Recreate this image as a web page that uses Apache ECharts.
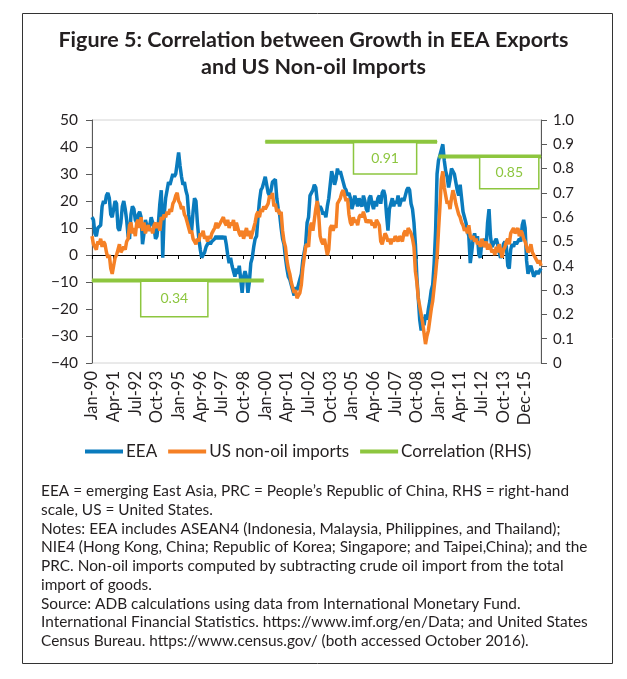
<!DOCTYPE html>
<html>
<head>
<meta charset="utf-8">
<script src="https://cdn.jsdelivr.net/npm/echarts@6/dist/echarts.min.js"></script>
<style>html,body{margin:0;padding:0;background:#fff}#c{width:627px;height:679px}</style>
</head>
<body>
<div id="c"></div>
<script>
// ---------- data ----------
const monthNames = ['Jan','Feb','Mar','Apr','May','Jun','Jul','Aug','Sep','Oct','Nov','Dec'];
const firstYear = 1990, lastYear = 2015;
const categories = [];
for (let y = firstYear; y <= lastYear; y++) {
  for (const m of monthNames) categories.push(m + '-' + String(y % 100).padStart(2, '0'));
}
const tickLabels = ['Jan-90','Apr-91','Jul-92','Oct-93','Jan-95','Apr-96','Jul-97','Oct-98','Jan-00','Apr-01',
  'Jul-02','Oct-03','Jan-05','Apr-06','Jul-07','Oct-08','Jan-10','Apr-11','Jul-12','Oct-13','Dec-15'];

const eea = [
  14, 13, 8, 7, 10, 10, 11, 18, 20, 19, 22, 23,
  21, 15, 14, 17, 20, 19, 10, 9, 12, 18, 20, 17,
  13, 7, 6, 15, 18, 17, 13, 12, 15, 16, 14, 4,
  8, 13, 13, 9, 11, 14, 14, 10, 6, 7, 12, 19,
  24, -1, 15, 21, 24, 27, 26, 28, 30, 29, 30, 34,
  38, 33, 29, 26, 27, 24, 22, 15, 10, 9, 16, 21,
  20, 12, 6, 2, -1, 0, 1, 3, 4, 5, 4, 5,
  5, 6, 7, 6, 7, 6, 7, 6, 7, 4, 0, -3,
  -1, -4, -6, -8, -5, -7, -4, -9, -14, -8, -6, -8,
  -14, -10, -3, -1, 3, 6, 7, 14, 20, 24, 25, 27,
  29, 26, 23, 22, 24, 27, 27, 28, 21, 17, 15, 10,
  6, 4, -1, -5, -8, -9, -11, -13, -15, -12, -13, -11,
  -9, -7, -2, 1, 4, 12, 14, 22, 23, 24, 26, 25,
  20, 17, 18, 17, 15, 16, 14, 18, 21, 26, 31, 29,
  26, 28, 32, 30, 31, 29, 27, 25, 24, 22, 23, 21,
  17, 19, 22, 20, 18, 21, 19, 18, 22, 20, 17, 16,
  21, 22, 19, 17, 20, 18, 21, 22, 19, 23, 24, 22,
  15, 9, 17, 19, 21, 18, 20, 19, 22, 18, 20, 21,
  20, 22, 24, 25, 24, 19, 17, 12, 4, -8, -16, -24,
  -28, -23, -26, -22, -24, -20, -17, -13, -11, -3, 9, 30,
  35, 37, 39, 41, 35, 31, 29, 25, 28, 32, 31, 30,
  27, 24, 22, 26, 21, 16, 14, 12, 9, 7, -3, 1,
  6, 8, 5, 7, 0, -1, 5, 4, 6, 3, 12, 17,
  7, 3, 4, 5, 6, 4, 1, -1, 0, 4, 5, 3,
  -4, -5, 2, 4, 3, 5, 4, 5, 6, 5, 11, 13,
  10, -2, -7, -5, -4, -6, -8, -7, -6, -7, -6, -5
];

const usNonOilImports = [
  7, 4, 3, 2, 5, 4, 6, 3, 5, 4, 1, -1,
  0, -5, -7, -4, -1, 0, 2, 4, 1, 2, 3, 2,
  5, 6, 11, 12, 8, 10, 7, 12, 13, 10, 14, 9,
  12, 8, 10, 11, 9, 10, 8, 11, 12, 10, 12, 9,
  14, 13, 15, 14, 16, 15, 17, 16, 19, 20, 22, 23,
  20, 19, 17, 18, 15, 14, 12, 10, 8, 9, 6, 5,
  4, 6, 5, 8, 7, 9, 6, 7, 5, 7, 6, 8,
  9, 10, 12, 10, 11, 12, 13, 14, 12, 11, 13, 10,
  12, 11, 13, 9, 12, 10, 8, 7, 9, 6, 8, 10,
  7, 9, 6, 8, 10, 12, 15, 16, 14, 17, 16, 18,
  17, 18, 19, 22, 21, 23, 18, 19, 16, 17, 15, 16,
  9, 5, 3, -2, -5, -7, -10, -12, -14, -13, -16, -15,
  -14, -11, -5, -1, 3, 4, 3, 10, 12, 9, 13, 17,
  20, 15, 7, 5, 4, 6, 3, 0, 2, 10, 11, 9,
  11, 10, 19, 20, 21, 23, 24, 22, 20, 21, 15, 12,
  11, 14, 12, 13, 11, 14, 15, 14, 16, 14, 12, 13,
  12, 13, 11, 12, 10, 13, 12, 11, 5, 4, 6, 8,
  7, 5, 6, 4, 6, 5, 7, 6, 5, 7, 6, 5,
  8, 9, 7, 10, 9, 8, 6, 3, -6, -10, -16, -19,
  -22, -25, -29, -33, -30, -28, -24, -20, -17, -12, -7, -1,
  9, 18, 28, 31, 25, 22, 19, 20, 17, 21, 24, 22,
  19, 17, 15, 14, 12, 11, 9, 10, 8, 11, 7, 6,
  7, 5, 6, 4, 5, 3, 6, 4, 3, 5, 2, 4,
  3, 1, 2, 0, 3, 1, 4, 2, -1, 2, 3, 5,
  6, 4, 8, 9, 10, 8, 9, 10, 7, 9, 8, 6,
  5, 3, 1, 2, 4, 1, 0, -1, -2, -3, -2, -4
];

const corrValues = [0.34, 0.91, 0.85];
const corrStart = ['Jan-90', 'Jan-00', 'Jan-10'];
const corrEnd = ['Dec-99', 'Dec-09', 'Dec-15'];

const noteLines = [
  'EEA = emerging East Asia, PRC = People\u2019s Republic of China, RHS = right-hand',
  'scale, US = United States.',
  'Notes: EEA includes ASEAN4 (Indonesia, Malaysia, Philippines, and Thailand);',
  'NIE4 (Hong Kong, China; Republic of Korea; Singapore; and Taipei,China); and the',
  'PRC. Non-oil imports computed by subtracting crude oil import from the total',
  'import of goods.',
  'Source: ADB calculations using data from International Monetary Fund.',
  'International Financial Statistics. https://www.imf.org/en/Data; and United States',
  'Census Bureau. https://www.census.gov/ (both accessed October 2016).'
];

// ---------- style ----------
const FONT = 'Lato, "Open Sans", sans-serif';
const TEXT = '#231f20';
const BLUE = '#0a7bbd';
const ORANGE = '#f58025';
const GREEN = '#8dc63f';
const labelFrac = [0.48, 0.7, 0.69];
const labelPad = [[10, 19], [8, 17], [8, 15]];

const corrSeries = corrValues.map((v, k) => {
  const s = categories.indexOf(corrStart[k]);
  const e = categories.indexOf(corrEnd[k]);
  const li = Math.round(s + (e - s) * labelFrac[k]);
  const data = categories.map((c, i) => {
    if (i < s || i > e) return null;
    if (i === li) {
      return {
        value: v,
        label: {
          show: true, position: 'bottom', distance: 1,
          formatter: String(v), color: GREEN, fontSize: 14, fontFamily: FONT,
          backgroundColor: '#fff', borderColor: GREEN, borderWidth: 1.5,
          padding: labelPad[k]
        }
      };
    }
    return v;
  });
  return {
    name: 'Correlation (RHS)', type: 'line', xAxisIndex: 0, yAxisIndex: 1,
    data, symbol: 'circle', symbolSize: 1, showSymbol: true, showAllSymbol: true, connectNulls: false,
    lineStyle: { color: GREEN, width: 4 }, itemStyle: { color: GREEN },
    label: { show: false },
    z: 5, silent: true
  };
});

const tickEvery = (i) => i % 15 === 0;

const option = {
  animation: false,
  backgroundColor: '#fff',
  textStyle: { fontFamily: FONT },
  title: {
    text: 'Figure 5: Correlation between Growth in EEA Exports\nand US Non-oil Imports',
    left: 'center', top: 22,
    textStyle: { fontSize: 21.5, fontWeight: 'bold', color: TEXT, lineHeight: 27, fontFamily: FONT }
  },
  grid: { left: 92, right: 86, top: 120, height: 243, show: true, borderColor: '#d4d4d4', borderWidth: 1 },
  legend: {
    data: ['EEA', 'US non-oil imports', 'Correlation (RHS)'],
    left: 85, top: 443, padding: 0, icon: 'rect', itemWidth: 38, itemHeight: 4, itemGap: 11,
    textStyle: { fontSize: 17, color: TEXT, fontFamily: FONT, padding: [0, 0, 0, -2] }
  },
  xAxis: [
    {
      type: 'category', data: categories, boundaryGap: false, position: 'bottom',
      axisLine: { show: false, onZero: false }, axisTick: { show: false },
      axisLabel: {
        interval: tickEvery, rotate: 90, fontSize: 16.5, color: TEXT, margin: 8, fontFamily: FONT,
        formatter: (v, i) => tickLabels[i / 15]
      },
      splitLine: { show: false }
    },
    {
      type: 'category', data: categories, boundaryGap: false, position: 'bottom',
      axisLine: { show: true, onZero: true, onZeroAxisIndex: 0, lineStyle: { color: '#000', width: 1 } },
      axisTick: { show: true, interval: tickEvery, length: 4, lineStyle: { color: '#000' } },
      axisLabel: { show: false }, splitLine: { show: false }
    }
  ],
  yAxis: [
    {
      type: 'value', min: -40, max: 50, interval: 10, position: 'left',
      axisLine: { show: true, lineStyle: { color: '#595959' } },
      axisTick: { show: true, length: 6, lineStyle: { color: '#595959' } },
      axisLabel: { fontSize: 15.5, color: TEXT, margin: 14, fontFamily: FONT, formatter: v => String(v).replace('-', '\u2212') },
      splitLine: { show: false }
    },
    {
      type: 'value', min: 0, max: 1, interval: 0.1, position: 'right',
      axisLine: { show: true, lineStyle: { color: '#595959' } },
      axisTick: { show: true, length: 6, lineStyle: { color: '#595959' } },
      axisLabel: { fontSize: 15, color: TEXT, margin: 12, fontFamily: FONT, formatter: v => (v === 0 ? '0' : v.toFixed(1)) },
      splitLine: { show: false }
    }
  ],
  series: [
    {
      name: 'EEA', type: 'line', xAxisIndex: 0, yAxisIndex: 0, data: eea, symbol: 'none',
      lineStyle: { color: BLUE, width: 3.5 }, itemStyle: { color: BLUE }, z: 2, silent: true
    },
    {
      name: 'US non-oil imports', type: 'line', xAxisIndex: 0, yAxisIndex: 0, data: usNonOilImports, symbol: 'none',
      lineStyle: { color: ORANGE, width: 3.5 }, itemStyle: { color: ORANGE }, z: 3, silent: true
    },
    ...corrSeries
  ],
  graphic: [
    { type: 'rect', shape: { x: 22.5, y: 13.5, width: 590, height: 650 }, style: { fill: 'none', stroke: '#333', lineWidth: 1 }, silent: true },
    {
      type: 'text', left: 41, top: 482, silent: true,
      style: { text: noteLines.join('\n'), fontSize: 15.4, fontFamily: FONT, fill: TEXT, lineHeight: 18.7 }
    }
  ]
};

const chart = echarts.init(document.getElementById('c'), null, { renderer: 'canvas' });
chart.setOption(option);
</script>
</body>
</html>
